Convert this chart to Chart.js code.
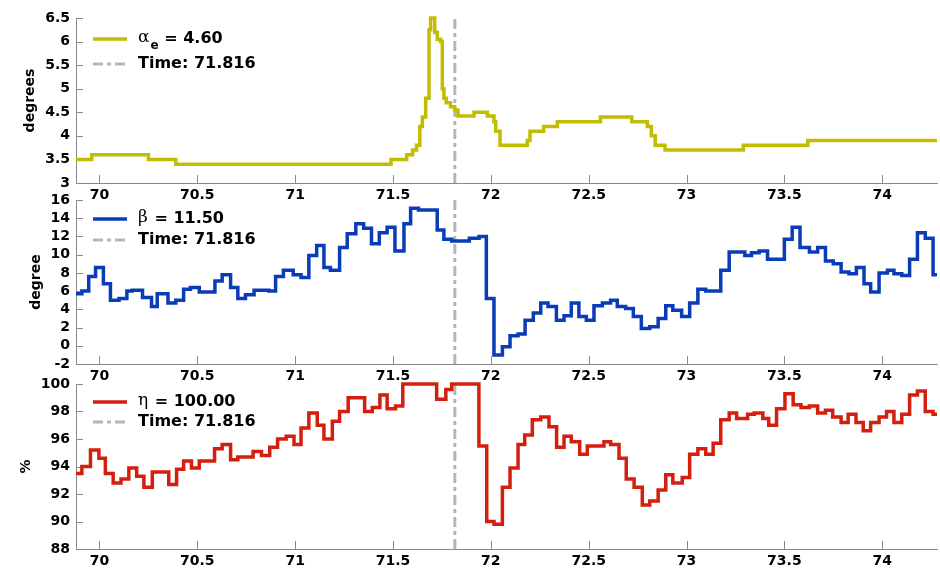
<!DOCTYPE html>
<html>
<head>
<meta charset="utf-8">
<script src="https://cdn.jsdelivr.net/npm/chart.js@4.4.1/dist/chart.umd.min.js"></script>
<style>
  html, body { margin: 0; padding: 0; background: #fff; }
  #wrap { position: relative; width: 940px; height: 569px; overflow: hidden; }
  #wrap canvas { position: absolute; left: 0; }
</style>
</head>
<body>
<div id="wrap">
  <canvas id="c1" width="940" height="220" style="top:0px"></canvas>
  <canvas id="c2" width="940" height="215" style="top:185px"></canvas>
  <canvas id="c3" width="940" height="203" style="top:366px"></canvas>
</div>
<script>
// shared time axis
const xMin = 69.88, xMax = 74.28, xStep = 0.5;
const cursorTime = 71.816;

// alpha_e (degrees): start time of each step, last entry closes the series
const alphaT = [69.88, 69.96, 70.25, 70.39, 71.49, 71.57, 71.60, 71.62, 71.637, 71.65, 71.667, 71.684, 71.692,
  71.713, 71.726, 71.743, 71.752, 71.76, 71.772, 71.794, 71.815, 71.832, 71.914, 71.982, 72.016, 72.025, 72.047,
  72.186, 72.20, 72.27, 72.34, 72.56, 72.72, 72.80, 72.82, 72.84, 72.89, 73.29, 73.62, 74.28];
const alphaV = [3.5, 3.6, 3.5, 3.4, 3.5, 3.6, 3.7, 3.8, 4.2, 4.4, 4.8, 6.25, 6.5,
  6.2, 6.05, 6.0, 5.0, 4.8, 4.7, 4.62, 4.55, 4.42, 4.5, 4.42, 4.3, 4.1, 3.8,
  3.9, 4.1, 4.2, 4.3, 4.4, 4.3, 4.2, 4.0, 3.8, 3.7, 3.8, 3.9, 3.9];

// beta (degree)
const betaT = [69.88, 69.91, 69.945, 69.98, 70.02, 70.056, 70.10, 70.14, 70.167, 70.22, 70.266, 70.295, 70.35,
  70.39, 70.43, 70.465, 70.51, 70.59, 70.627, 70.67, 70.707, 70.746, 70.79, 70.866, 70.9, 70.94, 70.99, 71.03,
  71.07, 71.11, 71.147, 71.18, 71.227, 71.266, 71.31, 71.35, 71.39, 71.43, 71.47, 71.51, 71.556, 71.59, 71.63,
  71.726, 71.76, 71.80, 71.89, 71.94, 71.977, 72.016, 72.059, 72.098, 72.139, 72.175, 72.217, 72.255, 72.292,
  72.335, 72.374, 72.411, 72.45, 72.488, 72.527, 72.57, 72.612, 72.646, 72.689, 72.728, 72.769, 72.812, 72.855,
  72.894, 72.93, 72.975, 73.016, 73.058, 73.098, 73.175, 73.218, 73.298, 73.332, 73.371, 73.414, 73.5, 73.54,
  73.58, 73.628, 73.67, 73.71, 73.75, 73.79, 73.83, 73.868, 73.907, 73.941, 73.984, 74.027, 74.06, 74.1, 74.14,
  74.18, 74.22, 74.26, 74.28];
const betaV = [5.7, 6.0, 7.6, 8.6, 6.8, 5.0, 5.2, 6.0, 6.1, 5.3, 4.3, 5.7, 4.7,
  5.0, 6.2, 6.4, 5.9, 7.1, 7.8, 6.4, 5.2, 5.6, 6.1, 6.0, 7.6, 8.3, 7.8,
  7.5, 9.9, 11.0, 8.6, 8.3, 10.8, 12.3, 13.4, 12.9, 11.2, 12.4, 13.0, 10.4, 13.4, 15.1,
  14.9, 12.7, 11.7, 11.5, 11.8, 12.0, 5.2, -1.0, -0.1, 1.1, 1.3, 2.8, 3.6, 4.7,
  4.3, 2.8, 3.3, 4.7, 3.2, 2.8, 4.4, 4.7, 5.0, 4.3, 4.1, 3.2, 1.9, 2.1,
  3.0, 4.4, 3.9, 3.2, 4.7, 6.2, 6.0, 8.3, 10.3, 9.9, 10.2, 10.4, 9.5, 11.7,
  13.0, 10.8, 10.3, 10.8, 9.3, 9.0, 8.1, 7.9, 8.6, 6.8, 5.9, 8.0, 8.3, 7.9, 7.7,
  9.5, 12.4, 11.8, 7.8, 7.8];

// eta (%)
const etaT = [69.88, 69.91, 69.954, 69.997, 70.03, 70.07, 70.11, 70.15, 70.19, 70.227, 70.27, 70.354, 70.394,
  70.43, 70.47, 70.51, 70.588, 70.627, 70.67, 70.707, 70.785, 70.828, 70.87, 70.91, 70.954, 70.994, 71.03,
  71.07, 71.113, 71.147, 71.19, 71.227, 71.271, 71.355, 71.394, 71.433, 71.47, 71.513, 71.55, 71.723, 71.77,
  71.80, 71.939, 71.979, 72.016, 72.059, 72.098, 72.139, 72.173, 72.212, 72.255, 72.297, 72.336, 72.374,
  72.411, 72.454, 72.493, 72.578, 72.612, 72.655, 72.692, 72.732, 72.774, 72.812, 72.855, 72.894, 72.93,
  72.978, 73.016, 73.058, 73.098, 73.136, 73.175, 73.218, 73.256, 73.312, 73.346, 73.39, 73.42, 73.46,
  73.503, 73.545, 73.585, 73.628, 73.67, 73.71, 73.747, 73.79, 73.826, 73.866, 73.903, 73.941, 73.984,
  74.022, 74.06, 74.1, 74.14, 74.18, 74.22, 74.26, 74.28];
const etaV = [93.5, 94.0, 95.2, 94.6, 93.5, 92.8, 93.1, 93.9, 93.3, 92.5, 93.6, 92.7,
  93.8, 94.4, 93.9, 94.4, 95.3, 95.6, 94.5, 94.7, 95.1, 94.8, 95.4, 96.0, 96.2, 95.6,
  96.8, 97.9, 97.0, 96.0, 97.3, 98.0, 99.0, 98.0, 98.3, 99.2, 98.2, 98.4, 100.0, 98.9,
  99.6, 100.0, 95.5, 90.0, 89.8, 92.5, 93.9, 95.6, 96.3, 97.4, 97.6, 96.9, 95.4,
  96.2, 95.8, 94.9, 95.5, 95.8, 95.6, 94.6, 93.1, 92.5, 91.2, 91.5, 92.3, 93.4,
  92.8, 93.2, 94.9, 95.3, 94.9, 95.7, 97.4, 97.9, 97.5, 97.8, 97.9, 97.5, 97.0,
  98.2, 99.3, 98.5, 98.3, 98.4, 97.9, 98.1, 97.6, 97.2, 97.8, 97.2, 96.6, 97.2,
  97.6, 98.0, 97.2, 97.8, 99.2, 99.5, 98.0, 97.8, 97.8];

const panels = [
  { id: 'c1', t: alphaT, v: alphaV, color: '#c2bd00', greek: 'α', sub: 'e', value: '4.60',
    yMin: 3, yMax: 6.5, yStep: 0.5, yTitle: 'degrees', titleX: 30, top: 18, bottom: 15, xH: 22, legendY: [21, 46] },
  { id: 'c2', t: betaT, v: betaV, color: '#0a3cb8', greek: 'β', sub: '', value: '11.50',
    yMin: -2, yMax: 16, yStep: 2, yTitle: 'degree', titleX: 36, top: 15, bottom: 15, xH: 21, legendY: [19, 40] },
  { id: 'c3', t: etaT, v: etaV, color: '#d41e0e', greek: 'η', sub: '', value: '100.00',
    yMin: 88, yMax: 100, yStep: 2, yTitle: '%', titleX: 26, top: 18, bottom: 0, xH: 20, legendY: [18, 38] }
];

const AXIS_GRAY = '#8a8a8a';
const CURSOR_GRAY = '#b6b6b6';
const DASHDOT = [10, 4, 4, 4];

Chart.defaults.font.family = "'DejaVu Sans', sans-serif";
Chart.defaults.font.size = 14;
Chart.defaults.font.weight = 'bold';
Chart.defaults.color = '#000';

const fmt = v => String(+v.toFixed(3));

// MATLAB-style ticks pointing into the plot
const innerTicks = {
  id: 'innerTicks',
  beforeDatasetsDraw(chart) {
    const { ctx, chartArea: a, scales: { x, y } } = chart;
    ctx.save();
    ctx.strokeStyle = AXIS_GRAY;
    ctx.lineWidth = 1;
    ctx.beginPath();
    x.ticks.forEach(t => {
      const px = Math.round(x.getPixelForValue(t.value)) + 0.5;
      ctx.moveTo(px, a.bottom);
      ctx.lineTo(px, a.bottom - 8);
    });
    y.ticks.forEach(t => {
      const py = Math.round(y.getPixelForValue(t.value)) + 0.5;
      ctx.moveTo(a.left, py);
      ctx.lineTo(a.left + 7, py);
    });
    ctx.stroke();
    ctx.restore();
  }
};

// legend in the upper-left corner, greek symbol plus optional subscript
const cornerLegend = {
  id: 'cornerLegend',
  afterDraw(chart, args, opts) {
    const { ctx, chartArea: a } = chart;
    const x0 = 93, x1 = 127, tx = 138;
    ctx.save();
    chart.data.datasets.forEach((ds, i) => {
      const y = a.top + opts.rows[i];
      ctx.beginPath();
      ctx.strokeStyle = ds.borderColor;
      ctx.lineWidth = ds.borderWidth;
      ctx.setLineDash(ds.borderDash || []);
      ctx.moveTo(x0, y);
      ctx.lineTo(x1, y);
      ctx.stroke();
      ctx.setLineDash([]);
      ctx.fillStyle = '#000';
      ctx.textBaseline = 'middle';
      let x = tx;
      if (ds.greek) {
        ctx.font = "17px 'DejaVu Serif', serif";
        ctx.fillText(ds.greek, x, y - 1);
        x += ctx.measureText(ds.greek).width + 1;
        if (ds.sub) {
          ctx.font = "bold 12px 'DejaVu Sans', sans-serif";
          ctx.fillText(ds.sub, x, y + 7);
          x += ctx.measureText(ds.sub).width;
        }
        ctx.font = "bold 16px 'DejaVu Sans', sans-serif";
        ctx.fillText(' = ' + ds.value, x, y);
      } else {
        ctx.font = "bold 16px 'DejaVu Sans', sans-serif";
        ctx.fillText(ds.label, x, y);
      }
    });
    ctx.restore();
  }
};

panels.forEach(p => {
  const pts = p.t.map((t, i) => ({ x: t, y: p.v[i] }));
  new Chart(document.getElementById(p.id), {
    type: 'line',
    data: {
      datasets: [
        {
          label: p.greek + p.sub + ' = ' + p.value, greek: p.greek, sub: p.sub, value: p.value,
          data: pts, borderColor: p.color, borderWidth: 3.5, stepped: true,
          pointRadius: 0, fill: false, clip: 5, order: 1
        },
        {
          label: 'Time: ' + cursorTime,
          data: [{ x: cursorTime, y: p.yMin }, { x: cursorTime, y: p.yMax }],
          borderColor: CURSOR_GRAY, borderWidth: 3, borderDash: DASHDOT,
          pointRadius: 0, fill: false, clip: 5, order: 2
        }
      ]
    },
    options: {
      responsive: false,
      animation: false,
      layout: { padding: { top: p.top, left: 0, right: 3, bottom: p.bottom } },
      plugins: {
        legend: { display: false },
        tooltip: { enabled: false },
        cornerLegend: { rows: p.legendY }
      },
      scales: {
        x: {
          type: 'linear', min: xMin, max: xMax,
          grid: { display: false, drawTicks: false },
          border: { display: true, color: AXIS_GRAY, width: 1 },
          ticks: { stepSize: xStep, includeBounds: false, maxRotation: 0, autoSkip: false, padding: 4, callback: fmt },
          afterFit: s => { s.height = p.xH; }
        },
        y: {
          min: p.yMin, max: p.yMax,
          grid: { display: false, drawTicks: false },
          border: { display: true, color: AXIS_GRAY, width: 1 },
          ticks: { stepSize: p.yStep, includeBounds: false, autoSkip: false, padding: 6, callback: fmt },
          title: {
            display: true, text: p.yTitle,
            font: { size: 14, weight: 'bold' },
            padding: { top: p.titleX - 8, bottom: 0 }
          },
          afterFit: s => { s.width = 76; }
        }
      }
    },
    plugins: [innerTicks, cornerLegend]
  });
});
</script>
</body>
</html>
